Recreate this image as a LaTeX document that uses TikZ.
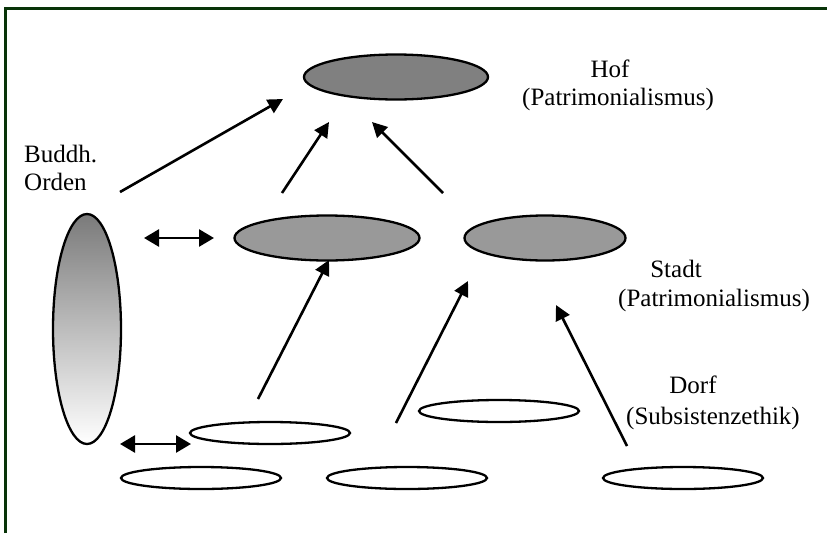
\documentclass[tikz,border=0pt]{standalone}
\usepackage{fontspec}
\setmainfont{Liberation Serif}
\usetikzlibrary{shapes.geometric,arrows.meta}
\definecolor{framegreen}{RGB}{8,52,8}
\definecolor{hofgray}{RGB}{128,128,128}
\definecolor{stadtgray}{RGB}{153,153,153}
\tikzset{
  elbox/.style={ellipse, draw=black, line width=2.3pt, inner sep=0pt},
  village/.style={elbox, fill=white, minimum width=160pt, minimum height=22pt},
  conn/.style={line width=2.6pt, -{Triangle[length=15pt,width=15pt]}},
  dconn/.style={line width=2.6pt, {Triangle[length=15pt,width=17pt]}-{Triangle[length=15pt,width=17pt]}},
  lbl/.style={font=\fontsize{25}{30}\selectfont, inner sep=0pt, anchor=base},
}
\begin{document}
\begin{tikzpicture}[x=1pt,y=-1pt]
\useasboundingbox (0,0) rectangle (827,533);
\fill[white] (0,0) rectangle (827,533);
% frame (top and left only)
\draw[framegreen, line width=3pt] (5.5,533) -- (5.5,8) -- (827,8);

% ellipses
\node[elbox, fill=hofgray, minimum width=184pt, minimum height=45pt] (hof) at (396,77) {};
\node[elbox, fill=stadtgray, minimum width=185pt, minimum height=45pt] (stadtL) at (327,238) {};
\node[elbox, fill=stadtgray, minimum width=161pt, minimum height=45pt] (stadtR) at (545,238) {};
\node[elbox, shading=axis, top color=black!52, bottom color=white, minimum width=68pt, minimum height=230pt] (orden) at (87,329) {};
\node[village] (dorfA) at (270,433) {};
\node[village] (dorfB) at (499,411) {};
\node[village] (dorfC) at (201,478) {};
\node[village] (dorfD) at (407,478) {};
\node[village] (dorfE) at (683,478) {};

% texts
\node[lbl] (hofA) at (610,77) {Hof};
\node[lbl] (hofB) at (618,105) {(Patrimonialismus)};
\node[lbl] (stA) at (676,277) {Stadt};
\node[lbl] (stB) at (714,306) {(Patrimonialismus)};
\node[lbl] (dfA) at (693,393) {Dorf};
\node[lbl] (dfB) at (713,424) {(Subsistenzethik)};
\node[lbl, anchor=base west] (boA) at (24,162) {Buddh.};
\node[lbl, anchor=base west] (boB) at (24,190) {Orden};

% arrow endpoints
\coordinate (a1s) at (120,192); \coordinate (a1e) at (283,99);
\coordinate (a2s) at (282,193); \coordinate (a2e) at (329,122);
\coordinate (a3s) at (443,193); \coordinate (a3e) at (372,122);
\coordinate (a4s) at (258,399); \coordinate (a4e) at (329,260);
\coordinate (a5s) at (396,423); \coordinate (a5e) at (468,281);
\coordinate (a6s) at (627,446); \coordinate (a6e) at (556,305);
\coordinate (d1s) at (144,238); \coordinate (d1e) at (214,238);
\coordinate (d2s) at (120,444); \coordinate (d2e) at (191,444);

\draw[conn] (a1s) -- (a1e);
\draw[conn] (a2s) -- (a2e);
\draw[conn] (a3s) -- (a3e);
\draw[conn] (a4s) -- (a4e);
\draw[conn] (a5s) -- (a5e);
\draw[conn] (a6s) -- (a6e);
\draw[dconn] (d1s) -- (d1e);
\draw[dconn] (d2s) -- (d2e);
\end{tikzpicture}
\end{document}
